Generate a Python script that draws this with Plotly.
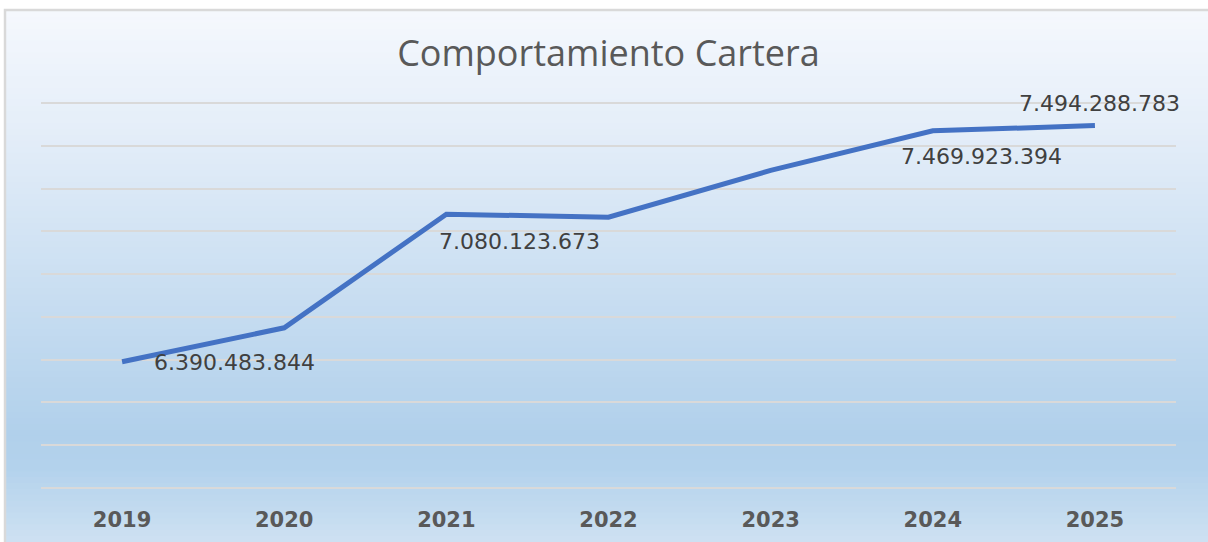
import plotly.graph_objects as go

years = ["2019", "2020", "2021", "2022", "2023", "2024", "2025"]
cartera = [6390483844, 6549000000, 7080123673, 7066000000, 7285000000, 7469923394, 7494288783]
labeled_years = ["2019", "2021", "2024", "2025"]

W, H = 1208, 542
PADPX = 3
ML, MR, MT, MB = 41, 32, 103 - PADPX, 54 - PADPX
Y_LO, Y_HI = 5800000000, 7600000000
pad = (Y_HI - Y_LO) / 385.0 * PADPX  # extra room so edge gridlines are drawn

def fmt(v):
    return f"{v:,}".replace(",", ".")

fig = go.Figure()
fig.add_trace(go.Scatter(
    x=years, y=cartera, mode="lines",
    line=dict(color="#4472c4", width=5, shape="linear"),
    hoverinfo="skip", showlegend=False,
))

# label offsets (pixels) per labeled year: (xshift, yshift)
offsets = {"2019": (30, -1), "2021": (-9, -27), "2024": (-34, -26), "2025": (-78, 22)}
annotations = []
for yr in labeled_years:
    i = years.index(yr)
    dx, dy = offsets[yr]
    annotations.append(dict(
        x=i, y=cartera[i], xref="x", yref="y", text=fmt(cartera[i]),
        showarrow=False, xanchor="left", yanchor="middle",
        xshift=dx, yshift=dy,
        font=dict(family="DejaVu Sans", size=22, color="#404040"),
    ))

def hex2rgb(h):
    h = h.lstrip("#")
    return tuple(int(h[k:k + 2], 16) for k in (0, 2, 4))

stops = [(0.0, "#f5f8fd"), (0.20, "#e6eff9"), (0.80, "#b1d0eb"), (0.86, "#b3d2ec"), (1.0, "#cee1f2")]
top_px, bot_px, left_px = 11, H, 6
pw = W - ML - MR
ph = H - MT - MB

def px2paper_x(px):
    return (px - ML) / pw

def px2paper_y(py):
    return (H - MB - py) / ph

def color_at(t):
    for (t0, c0), (t1, c1) in zip(stops[:-1], stops[1:]):
        if t0 <= t <= t1:
            a = (t - t0) / (t1 - t0) if t1 > t0 else 0
            r0, g0, b0 = hex2rgb(c0)
            r1, g1, b1 = hex2rgb(c1)
            return "rgb(%d,%d,%d)" % (round(r0 + (r1 - r0) * a), round(g0 + (g1 - g0) * a), round(b0 + (b1 - b0) * a))
    return stops[-1][1]

shapes = []
n = 90
span = bot_px - top_px
for k in range(n):
    y0 = top_px + span * k / n
    y1 = top_px + span * (k + 1) / n + 0.8
    t = (k + 0.5) / n
    shapes.append(dict(
        type="rect", xref="paper", yref="paper", layer="below",
        x0=px2paper_x(left_px), x1=px2paper_x(W + 2),
        y0=px2paper_y(y0), y1=px2paper_y(min(y1, H + 2)),
        line=dict(width=0), fillcolor=color_at(t),
    ))
shapes.append(dict(
    type="rect", xref="paper", yref="paper", layer="below",
    x0=px2paper_x(5), x1=px2paper_x(W + 5), y0=px2paper_y(H + 5), y1=px2paper_y(10),
    line=dict(color="#d9d9d9", width=2.5), fillcolor="rgba(0,0,0,0)",
))

fig.update_layout(
    width=W, height=H,
    margin=dict(l=ML, r=MR, t=MT, b=MB, autoexpand=False),
    paper_bgcolor="white", plot_bgcolor="rgba(0,0,0,0)",
    title=dict(text="Comportamiento Cartera", x=0.5, xref="paper", xanchor="center",
               y=1 - 53 / H, yref="container", yanchor="middle",
               font=dict(family="Open Sans", size=36, color="#595959")),
    xaxis=dict(type="category", range=[-0.5, 6.5], showgrid=False, zeroline=False,
               showline=False, ticks="", fixedrange=True,
               tickfont=dict(family="DejaVu Sans", size=21, color="#595959", weight="bold"),
               ticklabelstandoff=11 + PADPX),
    yaxis=dict(range=[Y_LO - pad, Y_HI + pad], dtick=200000000, tick0=Y_LO,
               showgrid=True, gridcolor="#d9d9d9", gridwidth=2, zeroline=False,
               showticklabels=False, ticks="", showline=False, fixedrange=True),
    shapes=shapes, annotations=annotations,
)

fig.write_html("out.html", config={"displayModeBar": False},
               post_script="document.body.style.margin='0';document.body.style.overflow='hidden';")
